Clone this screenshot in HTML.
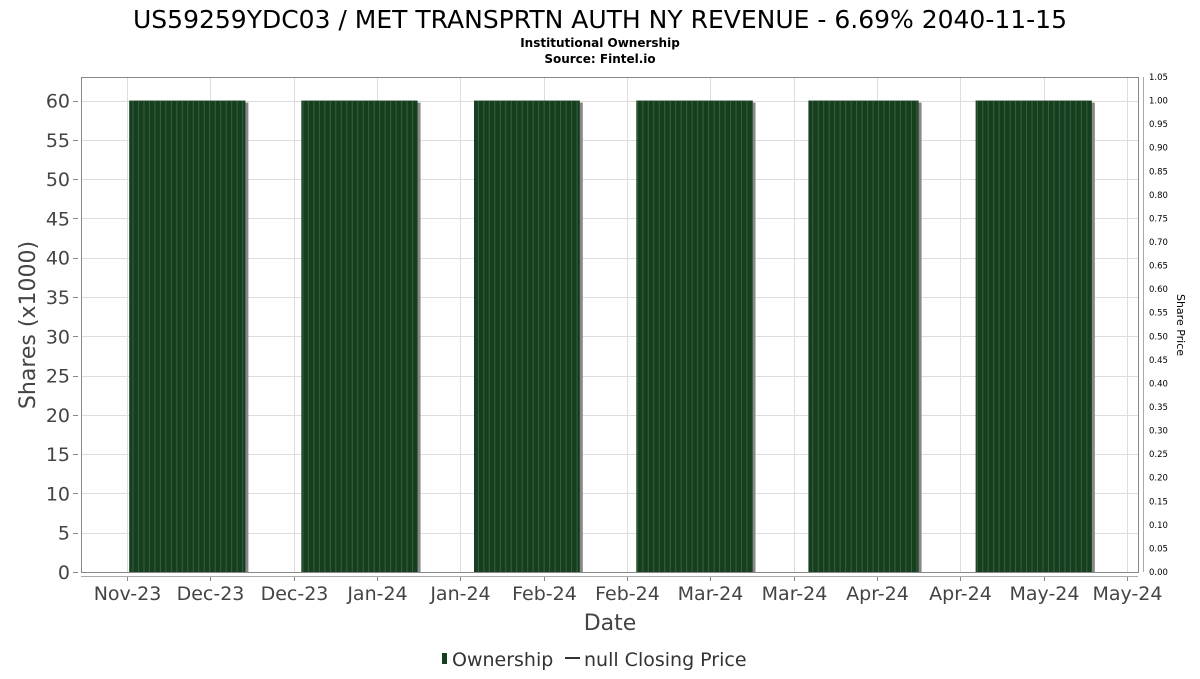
<!DOCTYPE html>
<html><head><meta charset="utf-8"><style>
body{margin:0;background:#fff;font-family:"DejaVu Sans","Liberation Sans",sans-serif;}
svg text{font-family:"DejaVu Sans","Liberation Sans",sans-serif;}
</style></head><body>
<svg id="chart" width="1200" height="675" xmlns="http://www.w3.org/2000/svg">
<text x="600" y="28" text-anchor="middle" font-size="25" fill="#000">US59259YDC03 / MET TRANSPRTN AUTH NY REVENUE - 6.69% 2040-11-15</text>
<text x="600" y="47" text-anchor="middle" font-size="12" font-weight="bold" fill="#000">Institutional Ownership</text>
<text x="600" y="63" text-anchor="middle" font-size="12" font-weight="bold" fill="#000">Source: Fintel.io</text>
<g id="grid"></g>
<g id="bars"></g>
<rect x="81.5" y="77.5" width="1057" height="495" fill="none" stroke="#888" stroke-width="1"/>
<g id="axes"></g>
<text transform="translate(35,325) rotate(-90)" text-anchor="middle" font-size="22" fill="#444">Shares (x1000)</text>
<text transform="translate(1177,325) rotate(90)" text-anchor="middle" font-size="11" fill="#000">Share Price</text>
<text x="610" y="630" text-anchor="middle" font-size="22" fill="#444">Date</text>
<g>
<rect x="442" y="653" width="5" height="11" fill="#163f20"/>
<text x="452" y="666" font-size="19" fill="#333">Ownership</text>
<line x1="565" y1="658" x2="580" y2="658" stroke="#333" stroke-width="2"/>
<text x="584" y="666" font-size="19" fill="#333">null Closing Price</text>
</g>
</svg>
<script>
const xTickLabels=["Nov-23","Dec-23","Dec-23","Jan-24","Jan-24","Feb-24","Feb-24","Mar-24","Mar-24","Apr-24","Apr-24","May-24","May-24"];
const xTickDays=[0,15.2,30.4,45.6,60.8,76,91.2,106.4,121.6,136.8,152,167.2,182.4];
const groupStartDay=[0.4,31.8,63.3,92.9,124.3,154.8];
const groupEndDay=[21.6,53.0,82.6,114.1,144.4,176.0];
const groupShares=[60,60,60,60,60,60];
const yTicks=[0,5,10,15,20,25,30,35,40,45,50,55,60];
const y2Ticks=["0.00","0.05","0.10","0.15","0.20","0.25","0.30","0.35","0.40","0.45","0.50","0.55","0.60","0.65","0.70","0.75","0.80","0.85","0.90","0.95","1.00","1.05"];
const NS="http://www.w3.org/2000/svg";
const X0=127,PXD=5.482,YB=572,YT=77,YMAX=63;
const xs=d=>X0+d*PXD;
const ys=v=>YB-(v/YMAX)*(YB-YT);
const y2s=v=>YB-(v/1.05)*(YB-YT);
function mk(tag,attrs,parent,txt){const e=document.createElementNS(NS,tag);for(const k in attrs)e.setAttribute(k,attrs[k]);if(txt!==undefined)e.textContent=txt;parent.appendChild(e);return e;}
const grid=document.getElementById('grid'),bars=document.getElementById('bars'),axes=document.getElementById('axes');
yTicks.forEach(v=>{const y=Math.round(ys(v))+0.5;
 const g=mk('line',{x1:82,x2:1138,y1:y,y2:y,stroke:'#ddd'},grid);
 
 const t=mk('text',{x:70,y:ys(v)+7,'text-anchor':'end','font-size':19,fill:'#444'},axes,String(v));
 
 const tk=mk('line',{x1:73,x2:78,y1:y,y2:y,stroke:'#888'},axes);
 
});
xTickDays.forEach((d,i)=>{const x=Math.round(xs(d))+0.5;
 const g=mk('line',{x1:x,x2:x,y1:78,y2:572,stroke:'#ddd'},grid);
 
 const tk=mk('line',{x1:x,x2:x,y1:576,y2:581,stroke:'#888'},axes);
 
 const t=mk('text',{x:x,y:600,'text-anchor':'middle','font-size':19,fill:'#444'},axes,xTickLabels[i]);
 
});
const xa=mk('line',{x1:81,x2:1138,y1:576.5,y2:576.5,stroke:'#aaa'},axes);

const ya=mk('line',{x1:1143.5,x2:1143.5,y1:77,y2:572,stroke:'#aaa'},axes);

y2Ticks.forEach(s=>{const v=parseFloat(s);const y=y2s(v);
 const t=mk('text',{x:1149,y:y+3,'font-size':8.5,fill:'#000'},axes,s);
 
});
groupStartDay.forEach((s,i)=>{
 const x1=xs(s),x2=xs(groupEndDay[i]),y=ys(groupShares[i]);
 const sh=mk('rect',{x:x1+3,y:y+2,width:x2-x1,height:YB-y-2,fill:'#888'},bars);
 
 const r=mk('rect',{x:x1,y:y,width:x2-x1,height:YB-y,fill:'#163f20'},bars);
 
 for(let d=Math.ceil(s);d<groupEndDay[i];d++){const lx=xs(d)+0.5;
  const l=mk('line',{x1:lx,x2:lx,y1:y,y2:YB,stroke:'#3a5f3f','stroke-width':1},bars);
  }
});
</script>
</body></html>
